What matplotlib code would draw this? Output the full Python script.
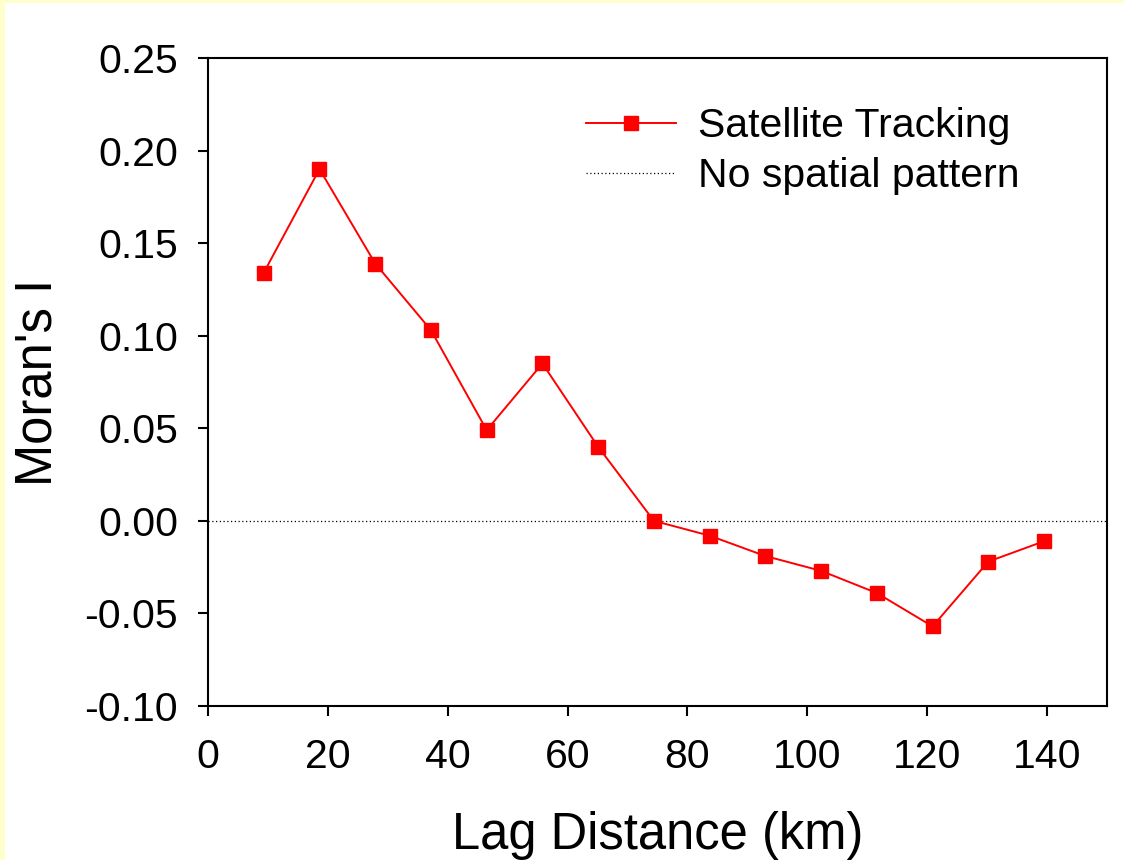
import matplotlib.pyplot as plt
from matplotlib.patches import Rectangle

plt.rcParams['font.family'] = ['Liberation Sans', 'DejaVu Sans']

# lag distance (km) and Moran's I values
lag_km = [9.3, 18.6, 27.9, 37.2, 46.5, 55.8, 65.1, 74.4, 83.7, 93.0,
          102.3, 111.6, 120.9, 130.2, 139.5]
morans_i = [0.134, 0.190, 0.139, 0.103, 0.049, 0.085, 0.040, 0.000,
            -0.008, -0.019, -0.027, -0.039, -0.057, -0.022, -0.011]
x_ticks = [0, 20, 40, 60, 80, 100, 120, 140]
y_ticks = [-0.10, -0.05, 0.00, 0.05, 0.10, 0.15, 0.20, 0.25]

fig = plt.figure(figsize=(11.24, 8.6), dpi=100)
fig.patch.set_facecolor('#FFFFCC')
# white panel, leaving a thin yellow strip on left and top
fig.patches.append(Rectangle((5 / 1124, 0), 1, 1 - 3 / 860, transform=fig.transFigure,
                             facecolor='white', edgecolor='none', zorder=-1))

ax = fig.add_axes([208 / 1124, 1 - 706 / 860, (1107 - 208) / 1124, (706 - 58) / 860])

ax.plot(lag_km, morans_i, color='#FF0000', lw=1.4, marker='s', markersize=10.5,
        label='Satellite Tracking', zorder=3)
ax.axhline(0, color='black', lw=0.9, ls=(0, (1, 2)), label='No spatial pattern')

ax.set_xlim(0, 150)
ax.set_ylim(-0.10, 0.25)
ax.set_xticks(x_ticks)
ax.set_yticks(y_ticks)
ax.set_yticklabels(['%.2f' % v for v in y_ticks])
ax.tick_params(direction='out', length=7.5, width=1.5, labelsize=29.5,
               top=False, right=False)
ax.tick_params(axis='y', pad=14)
ax.tick_params(axis='x', pad=15.5)
for s in ax.spines.values():
    s.set_linewidth(1.5)

ax.set_xlabel('Lag Distance (km)', fontsize=36.5, labelpad=25)
ax.set_ylabel("Moran's I", fontsize=36.5, labelpad=16)

ax.legend(loc='upper left', bbox_to_anchor=(0.379, 0.981), frameon=False, fontsize=29.5,
          handlelength=2.2, handletextpad=0.55, labelspacing=0.3)

fig.savefig('out.png', dpi=100, facecolor=fig.get_facecolor())
